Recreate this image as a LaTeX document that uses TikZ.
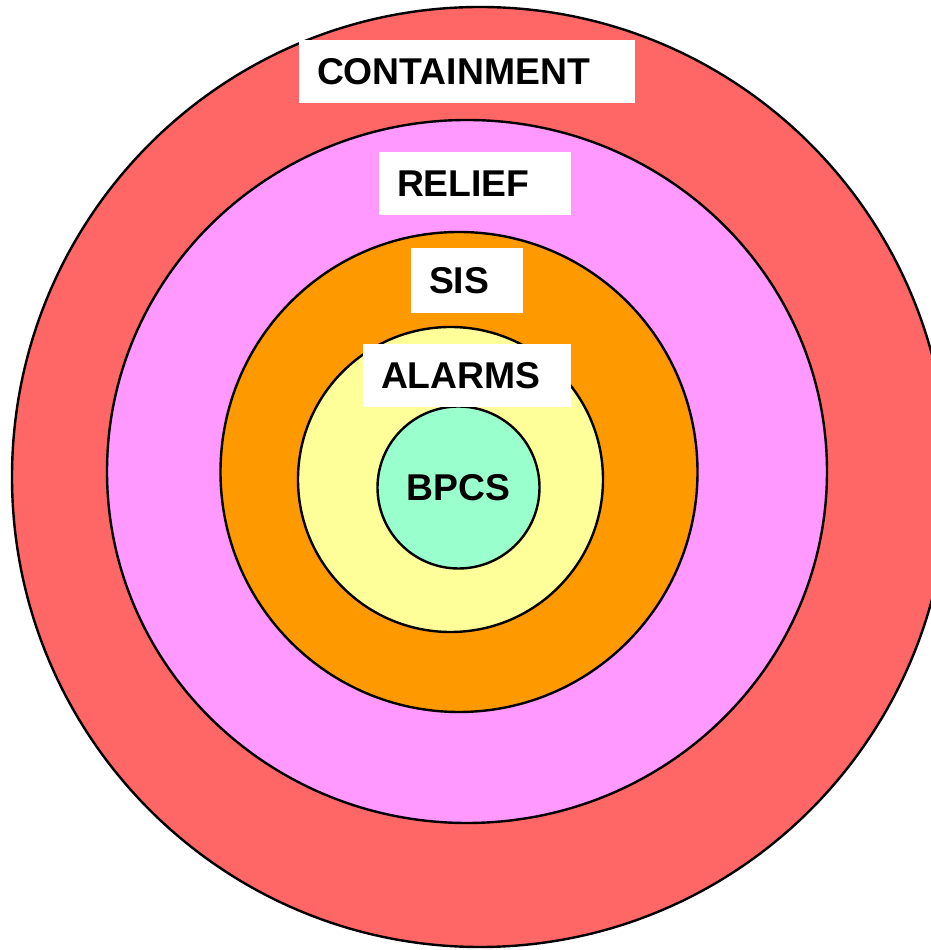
\documentclass[tikz,border=0pt]{standalone}
\usepackage{fontspec}
\setmainfont{Liberation Sans}
\usetikzlibrary{shapes.geometric}
\definecolor{containred}{HTML}{FF6666}
\definecolor{reliefpink}{HTML}{FF99FF}
\definecolor{sisorange}{HTML}{FF9900}
\definecolor{alarmyellow}{HTML}{FFFF99}
\definecolor{bpcsgreen}{HTML}{99FFCC}
\begin{document}
\begin{tikzpicture}[x=1pt,y=1pt]
  \tikzset{layer/.style={ellipse,draw,line width=2.4pt,inner sep=0pt},
           lbl/.style={fill=white,inner xsep=18pt,inner ysep=0pt,minimum height=63pt,
                       text height=27pt,text depth=0pt,align=left,font=\bigfont}}
  \def\bigfont{\fontsize{37.3}{40}\selectfont\bfseries}
  \useasboundingbox (0,0) rectangle (930,950);
  %layers
  \node[layer,fill=containred,minimum width=936pt,minimum height=940pt] (CONT) at (480,473) {};
  \node[layer,fill=reliefpink,minimum width=720pt,minimum height=703pt] (RELIEF) at (467,478.5) {};
  \node[layer,fill=sisorange,minimum width=477pt,minimum height=480pt] (SIS) at (459,478) {};
  \node[layer,fill=alarmyellow,minimum width=305pt,minimum height=305pt] (ALARM) at (450.5,470.5) {};
  \node[layer,fill=bpcsgreen,minimum width=162pt,minimum height=162pt,
        text height=27pt,text depth=0pt,font=\bigfont] (BPCS) at (458.5,462.5) {BPCS};
  %labels
  \node[lbl,text width=300pt] (contlbl) at (467,878.5) {CONTAINMENT};
  \node[lbl,text width=156pt] (relieflbl) at (475,766.5) {RELIEF};
  \node[lbl,text width=76pt,minimum height=65pt] (sislbl) at (467,669.5) {SIS};
  \node[lbl,text width=172pt] (alarmlbl) at (467,574.5) {ALARMS};
\end{tikzpicture}
\end{document}
